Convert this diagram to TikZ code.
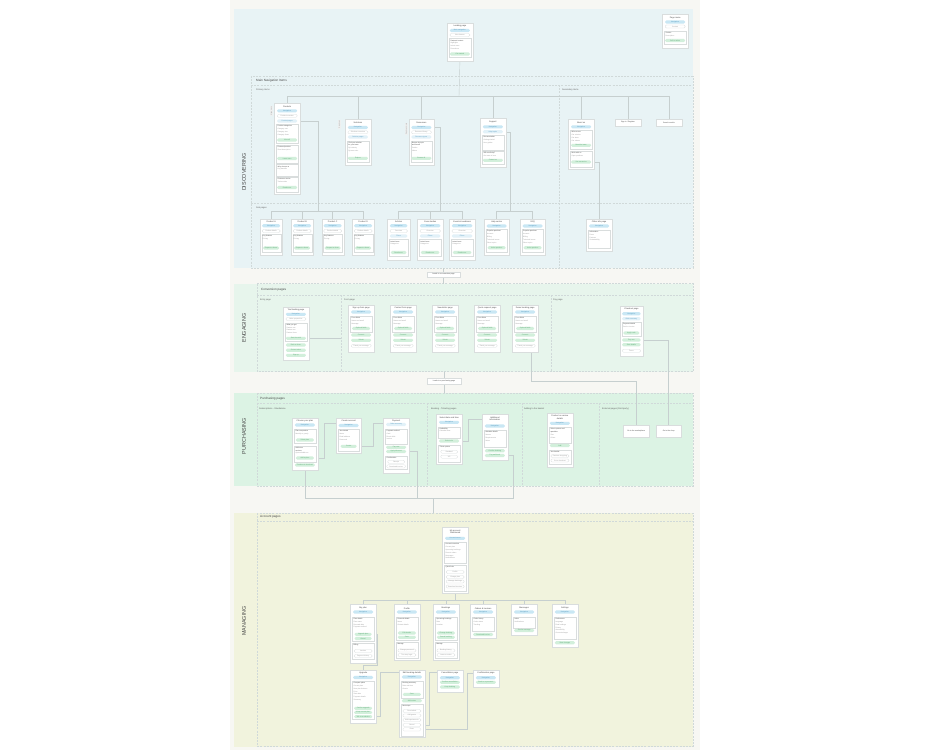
\documentclass[tikz,border=0pt]{standalone}
\usepackage{fontspec}
\setmainfont{Liberation Sans}

\definecolor{pagebg}{HTML}{F7F7F3}
\definecolor{discbg}{HTML}{E8F3F5}
\definecolor{engbg}{HTML}{E7F5EC}
\definecolor{purbg}{HTML}{DCF3E4}
\definecolor{manbg}{HTML}{F1F3DD}
\definecolor{framecol}{HTML}{D0D9D9}
\definecolor{cardline}{HTML}{D9DDDD}
\definecolor{navblue}{HTML}{C9E7F4}
\definecolor{linkblue}{HTML}{E2F1F8}
\definecolor{actgreen}{HTML}{D2EFDB}
\definecolor{navtext}{HTML}{5C9EC2}
\definecolor{acttext}{HTML}{5AA874}
\definecolor{wirecol}{HTML}{C6CFCF}
\definecolor{textdark}{HTML}{454545}
\definecolor{textgray}{HTML}{9A9A9A}

\pgfdeclarelayer{bg}
\pgfdeclarelayer{wires}
\pgfsetlayers{bg,wires,main}

\tikzset{
  pagecard/.style={draw=cardline, fill=white, line width=0.3pt, anchor=north west, inner sep=0pt},
  ttl/.style={font=\fontsize{2.1}{2.6}\selectfont, text=textdark, inner sep=0pt, align=center},
  pill/.style={rounded corners=1.3pt, minimum width=20pt, minimum height=3.1pt, inner sep=0pt,
    font=\fontsize{1.7}{2}\selectfont},
  navpill/.style={pill, fill=navblue, text=navtext},
  linkpill/.style={pill, fill=linkblue, text=navtext},
  plainpill/.style={pill, fill=white, draw=cardline, line width=0.25pt, text=textgray},
  actpill/.style={pill, fill=actgreen, text=acttext},
  sect/.style={draw=cardline, fill=white, line width=0.3pt, anchor=north, minimum width=21.5pt, inner sep=0pt},
  txt/.style={anchor=north west, inner sep=0pt, align=left, font=\fontsize{1.7}{2.8}\selectfont, text=textgray},
  note/.style={draw=cardline, fill=white, line width=0.3pt, inner sep=0pt,
    font=\fontsize{1.8}{2.2}\selectfont, text=textdark},
  tag/.style={rotate=90, inner sep=0.4pt, fill=cardline!45, font=\fontsize{1.6}{2}\selectfont, text=textgray},
  wire/.style={draw=wirecol, line width=0.4pt},
  frame/.style={draw=framecol, line width=0.35pt, dash pattern=on 2pt off 1.2pt},
  bandlbl/.style={rotate=90, inner sep=0pt, font=\fontsize{5.4}{6}\selectfont, text=textdark},
  head/.style={anchor=west, inner sep=0pt, font=\fontsize{3.1}{3.5}\selectfont, text=textdark},
  subhead/.style={anchor=west, inner sep=0pt, font=\fontsize{2.2}{2.6}\selectfont, text=textdark!85},
}

\begin{document}
\begin{tikzpicture}[x=1pt,y=-1pt]
\useasboundingbox (0,0) rectangle (930,750);

% bands and section frames
\begin{pgfonlayer}{bg}
  \fill[pagebg] (230,0) rectangle (700,750);
  \fill[discbg] (233.5,9) rectangle (693,268);
  \fill[engbg] (233.5,283.5) rectangle (693,371.5);
  \fill[purbg] (233.5,393) rectangle (693,486);
  \fill[manbg] (233.5,513) rectangle (693,746.5);
  \draw[frame] (251,76) rectangle (693,268);
  \draw[frame] (251,85) -- (693,85);
  \draw[frame] (559,85) -- (559,268);
  \draw[frame] (251,203) -- (693,203);
  \draw[frame] (257,283.5) rectangle (693,371.5);
  \draw[frame] (257,295) -- (693,295);
  \draw[frame] (341,295) -- (341,371.5);
  \draw[frame] (551,295) -- (551,371.5);
  \draw[frame] (257,393) rectangle (693,486);
  \draw[frame] (257,403) -- (693,403);
  \foreach \dx in {427,522,599} \draw[frame] (\dx,403) -- (\dx,486);
  \draw[frame] (257,513) rectangle (693,746.5);
  \draw[frame] (257,521) -- (693,521);
\end{pgfonlayer}

% band labels and headers
\node[bandlbl] (lbl-disc) at (244,172) {DISCOVERING};
\node[bandlbl] (lbl-eng) at (244,328) {ENGAGING};
\node[bandlbl] (lbl-pur) at (244,436) {PURCHASING};
\node[bandlbl] (lbl-man) at (244,621) {MANAGING};
\node[head] (h-main) at (256,80.5) {Main Navigation Items};
\node[subhead] (h-prim) at (256,90) {Primary items};
\node[subhead] (h-sec) at (562,90) {Secondary items};
\node[subhead] (h-sub) at (256,207.5) {Sub pages};
\node[head] (h-conv) at (261,289.3) {Conversion pages};
\node[subhead] (h-entry) at (260,300) {Entry page};
\node[subhead] (h-form) at (344,300) {Form page};
\node[subhead] (h-pay) at (553,300) {Pay page};
\node[head] (h-purch) at (260,398.3) {Purchasing pages};
\node[subhead] (h-subs) at (259,409) {Subscriptions - Standalone};
\node[subhead] (h-book) at (431,409) {Booking - Ticketing pages};
\node[subhead] (h-cart) at (524,409) {Adding to the basket};
\node[subhead] (h-ext) at (602,409) {External pages (third party)};
\node[head] (h-acc) at (260,517) {Account pages};

% legend
\node[pagecard, minimum width=26, minimum height=34] (key) at (662,14) {};
\node[ttl] (key-t) at (key.north |- 0,17.5) {Page name};
\node[navpill] (key-n) at (key.north |- 0,22) {Navigation};
\node[plainpill] (key-c) at (key.north |- 0,26.5) {Content};
\node[sect, minimum height=13.5] (key-b) at (key.north |- 0,30.7) {};
\node[txt] (key-x) at (665.5,31.8) {\textcolor{textdark}{Section}\\Description};
\node[actpill] (key-a) at (key.north |- 0,40.5) {Call to action};

% landing page
\node[pagecard, minimum width=25.5, minimum height=38] (land) at (447,23) {};
\node[ttl] (land-t) at (land.north |- 0,26.3) {Landing page};
\node[navpill] (land-n) at (land.north |- 0,30.5) {Main navigation};
\node[plainpill] (land-c) at (land.north |- 0,35) {Hero banner};
\node[sect, minimum height=19] (land-b) at (land.north |- 0,38.3) {};
\node[txt] (land-x) at (450.3,39.6) {\textcolor{textdark}{Featured content}\\Highlights\\Latest news\\Promotions};
\node[actpill] (land-a) at (land.north |- 0,54) {Get started};

% primary items
\node[pagecard, minimum width=26, minimum height=91] (prod) at (274,103) {};
\node[ttl] (prod-t) at (prod.north |- 0,106.3) {Products};
\node[navpill] (prod-n) at (prod.north |- 0,110.8) {Navigation};
\node[plainpill] (prod-c) at (prod.north |- 0,115.8) {Product overview};
\node[linkpill] (prod-l) at (prod.north |- 0,121) {Product pages};
\node[sect, minimum height=18.7] (prod-b1) at (prod.north |- 0,124.3) {};
\node[txt] (prod-x1) at (277.5,125.5) {\textcolor{textdark}{Product categories}\\Category one\\Category two\\Category three};
\node[actpill] (prod-a1) at (prod.north |- 0,140) {View all};
\node[sect, minimum height=18] (prod-b2) at (prod.north |- 0,145) {};
\node[txt] (prod-x2) at (277.5,146.3) {\textcolor{textdark}{Featured product}\\Short description};
\node[actpill] (prod-a2) at (prod.north |- 0,158.5) {Learn more};
\node[sect, minimum height=11.5] (prod-b3) at (prod.north |- 0,164.3) {};
\node[txt] (prod-x3) at (277.5,165.6) {\textcolor{textdark}{Why choose us}\\Key benefits};
\node[sect, minimum height=15] (prod-b4) at (prod.north |- 0,176.5) {};
\node[txt] (prod-x4) at (277.5,177.8) {\textcolor{textdark}{Customer stories}\\Testimonials};
\node[actpill] (prod-a4) at (prod.north |- 0,187.5) {Read more};
\node[tag] (prod-g) at (271.5,111) {Mega menu};

\node[pagecard, minimum width=25.5, minimum height=46] (solu) at (345,119) {};
\node[ttl] (solu-t) at (solu.north |- 0,122.8) {Solutions};
\node[navpill] (solu-n) at (solu.north |- 0,127.5) {Navigation};
\node[plainpill] (solu-c) at (solu.north |- 0,132.3) {Solutions overview};
\node[linkpill] (solu-l) at (solu.north |- 0,137) {Solution pages};
\node[sect, minimum height=21.5] (solu-b) at (solu.north |- 0,140.5) {};
\node[txt] (solu-x) at (348.3,141.7) {\textcolor{textdark}{Find your solution}\\\textcolor{textdark}{for your team}\\By industry\\By team size};
\node[actpill] (solu-a) at (solu.north |- 0,158.3) {Explore};
\node[tag] (solu-g) at (339.5,124.5) {Dropdown};

\node[pagecard, minimum width=25.5, minimum height=46] (reso) at (408.5,119) {};
\node[ttl] (reso-t) at (reso.north |- 0,122.8) {Resources};
\node[navpill] (reso-n) at (reso.north |- 0,127.5) {Navigation};
\node[plainpill] (reso-c) at (reso.north |- 0,132.3) {Resource library};
\node[linkpill] (reso-l) at (reso.north |- 0,137) {Resource types};
\node[sect, minimum height=21.5] (reso-b) at (reso.north |- 0,140.5) {};
\node[txt] (reso-x) at (411.8,141.7) {\textcolor{textdark}{Browse by topic}\\\textcolor{textdark}{and format}\\Guides\\Videos};
\node[actpill] (reso-a) at (reso.north |- 0,158.3) {Browse all};
\node[tag] (reso-g) at (406.5,129) {Dropdown menu};

\node[pagecard, minimum width=25.5, minimum height=49] (supp) at (480,118) {};
\node[ttl] (supp-t) at (supp.north |- 0,121.8) {Support};
\node[navpill] (supp-n) at (supp.north |- 0,126.8) {Navigation};
\node[linkpill] (supp-l) at (supp.north |- 0,131.7) {Help topics};
\node[sect, minimum height=15] (supp-b1) at (supp.north |- 0,135) {};
\node[txt] (supp-x1) at (483.3,136.3) {\textcolor{textdark}{Documentation}\\Getting started\\User guides};
\node[sect, minimum height=12.5] (supp-b2) at (supp.north |- 0,151) {};
\node[txt] (supp-x2) at (483.3,152.3) {\textcolor{textdark}{Still need help?}\\Our team is here};
\node[actpill] (supp-a) at (supp.north |- 0,160.3) {Contact us};

% secondary items
\node[pagecard, minimum width=26, minimum height=50] (about) at (568,119) {};
\node[ttl] (about-t) at (about.north |- 0,122.5) {About us};
\node[navpill] (about-n) at (about.north |- 0,126.8) {Navigation};
\node[sect, minimum height=19] (about-b1) at (about.north |- 0,130) {};
\node[txt] (about-x1) at (571.5,131.3) {\textcolor{textdark}{Who we are}\\Our mission\\Our team\\Our values};
\node[actpill] (about-a1) at (about.north |- 0,145.3) {Meet the team};
\node[sect, minimum height=16.5] (about-b2) at (about.north |- 0,150.5) {};
\node[txt] (about-x2) at (571.5,151.8) {\textcolor{textdark}{Work with us}\\Open positions};
\node[actpill] (about-a2) at (about.north |- 0,162) {See vacancies};

\node[pagecard, minimum width=25.5, minimum height=6.5, font=\fontsize{1.8}{2}\selectfont, text=textdark] (sign) at (615,119) {Sign in / Register};
\node[pagecard, minimum width=25.5, minimum height=6.5, font=\fontsize{1.8}{2}\selectfont, text=textdark] (srch) at (656,119) {Search results};

% sub pages
\foreach \i/\x/\nm in {1/260/Product A,2/291/Product B,3/321.5/Product C,4/352/Product D}{
  \node[pagecard, minimum width=22, minimum height=36] (sp\i) at (\x,219) {};
  \node[ttl] (sp\i-t) at (sp\i.north |- 0,222) {\nm};
  \node[navpill, minimum width=18] (sp\i-n) at (sp\i.north |- 0,225.7) {Navigation};
  \node[plainpill, minimum width=18] (sp\i-c) at (sp\i.north |- 0,231) {Product details};
  \node[sect, minimum width=19, minimum height=18] (sp\i-b) at (sp\i.north |- 0,234.2) {};
  \node[txt] (sp\i-x) at (\x+2.5,235.5) {\textcolor{textdark}{Key features}\\Pricing};
  \node[actpill, minimum width=16] (sp\i-a) at (sp\i.north |- 0,248) {Request a demo};
}
\foreach \i/\x/\w/\nm in {5/387/23/Articles,6/417/26/Case studies,7/449/26/Events \& webinars}{
  \node[pagecard, minimum width=\w, minimum height=40.5] (sp\i) at (\x,219) {};
  \node[ttl] (sp\i-t) at (sp\i.north |- 0,222) {\nm};
  \node[navpill, minimum width=\w-5.5] (sp\i-n) at (sp\i.north |- 0,225.7) {Navigation};
  \node[plainpill, minimum width=\w-5.5] (sp\i-c) at (sp\i.north |- 0,231) {Overview};
  \node[linkpill, minimum width=\w-5.5] (sp\i-l) at (sp\i.north |- 0,236) {Filters};
  \node[sect, minimum width=\w-4, minimum height=17] (sp\i-b) at (sp\i.north |- 0,239.3) {};
  \node[txt] (sp\i-x) at (\x+3.2,240.6) {\textcolor{textdark}{Latest items}\\Categories};
  \node[actpill, minimum width=\w-7.5] (sp\i-a) at (sp\i.north |- 0,252.5) {Read more};
}
\foreach \i/\x/\nm in {8/484/Help centre,9/520/FAQ}{
  \node[pagecard, minimum width=25, minimum height=36] (sp\i) at (\x,219) {};
  \node[ttl] (sp\i-t) at (sp\i.north |- 0,222) {\nm};
  \node[navpill] (sp\i-n) at (sp\i.north |- 0,226) {Navigation};
  \node[sect, minimum height=22.7] (sp\i-b) at (sp\i.north |- 0,229.3) {};
  \node[txt] (sp\i-x) at (\x+3,230.5) {\textcolor{textdark}{Popular questions}\\Account\\Billing\\Technical issues\\Other topics};
  \node[actpill, minimum width=18] (sp\i-a) at (sp\i.north |- 0,247.7) {Ask a question};
}
\node[pagecard, minimum width=26, minimum height=32] (spo) at (586,219) {};
\node[ttl] (spo-t) at (spo.north |- 0,222) {Other info page};
\node[navpill] (spo-n) at (spo.north |- 0,226) {Navigation};
\node[sect, minimum height=18.3] (spo-b) at (spo.north |- 0,229.7) {};
\node[txt] (spo-x) at (589.5,231) {\textcolor{textdark}{Information}\\Press\\Partners\\Sustainability};

\node[note, minimum width=33, minimum height=5.5] (toconv) at (443.5,274.5) {Leads to a conversion page};

% conversion pages
\node[pagecard, minimum width=25.5, minimum height=53] (entry) at (283,307) {};
\node[ttl] (entry-t) at (entry.north |- 0,310.2) {Trial landing page};
\node[navpill] (entry-n) at (entry.north |- 0,314.3) {Navigation};
\node[plainpill] (entry-c) at (entry.north |- 0,319) {Value proposition};
\node[sect, minimum height=18] (entry-b) at (entry.north |- 0,322.7) {};
\node[txt] (entry-x) at (286.3,323.9) {\textcolor{textdark}{What you get}\\Feature one\\Feature two\\Feature three};
\node[actpill] (entry-a1) at (entry.north |- 0,338.3) {Start free trial};
\node[actpill] (entry-a2) at (entry.north |- 0,345) {Book a demo};
\node[actpill] (entry-a3) at (entry.north |- 0,350.2) {Contact sales};
\node[actpill] (entry-a4) at (entry.north |- 0,355.3) {Sign up};

\foreach \i/\x/\nm in {1/348/Sign up form page,2/390/Contact form page,3/432/Newsletter page,4/474/Quote request page,5/512/Demo booking page}{
  \node[pagecard, minimum width=26, minimum height=46.5] (f\i) at (\x,305) {};
  \node[ttl] (f\i-t) at (f\i.north |- 0,308.3) {\nm};
  \node[navpill] (f\i-n) at (f\i.north |- 0,312) {Navigation};
  \node[sect, minimum height=16] (f\i-b) at (f\i.north |- 0,315.8) {};
  \node[txt] (f\i-x) at (\x+3.5,317) {\textcolor{textdark}{Form fields}\\Name and email\\Message};
  \node[actpill, minimum width=18] (f\i-a1) at (f\i.north |- 0,328.5) {Optional fields};
  \node[actpill] (f\i-a2) at (f\i.north |- 0,335) {Consent};
  \node[actpill] (f\i-a3) at (f\i.north |- 0,340.3) {Submit};
  \node[plainpill] (f\i-c) at (f\i.north |- 0,345.8) {Thank you message};
}

\node[pagecard, minimum width=22.5, minimum height=50] (pay) at (620,306) {};
\node[ttl] (pay-t) at (pay.north |- 0,309.3) {Checkout page};
\node[navpill, minimum width=18.5] (pay-n) at (pay.north |- 0,313.7) {Navigation};
\node[linkpill, minimum width=18.5] (pay-l) at (pay.north |- 0,318.7) {Order summary};
\node[sect, minimum width=19.5, minimum height=13.7] (pay-b) at (pay.north |- 0,322.3) {};
\node[txt] (pay-x) at (623,323.5) {\textcolor{textdark}{Payment details}\\Card or invoice};
\node[actpill, minimum width=16] (pay-a0) at (pay.north |- 0,333) {Apply code};
\node[actpill, minimum width=18.5] (pay-a1) at (pay.north |- 0,340) {Pay now};
\node[actpill, minimum width=18.5] (pay-a2) at (pay.north |- 0,344.7) {Save details};
\node[plainpill, minimum width=18.5] (pay-c) at (pay.north |- 0,350.7) {Terms};

\node[note, minimum width=34, minimum height=6] (topurch) at (444,381.5) {Leads to a purchasing page};

% purchasing pages
\node[pagecard, minimum width=25.5, minimum height=52] (subs) at (292,418) {};
\node[ttl] (subs-t) at (subs.north |- 0,421) {Choose your plan};
\node[navpill] (subs-n) at (subs.north |- 0,425) {Navigation};
\node[sect, minimum height=14] (subs-b1) at (subs.north |- 0,428.8) {};
\node[txt] (subs-x1) at (295.3,430) {\textcolor{textdark}{Plan comparison}\\Monthly or yearly};
\node[actpill, minimum width=18] (subs-a1) at (subs.north |- 0,440) {Select plan};
\node[sect, minimum height=16] (subs-b2) at (subs.north |- 0,445.7) {};
\node[txt] (subs-x2) at (295.3,446.9) {\textcolor{textdark}{Add extra}\\\textcolor{textdark}{services}\\Optional add-ons};
\node[actpill, minimum width=18] (subs-a2) at (subs.north |- 0,458) {Add to plan};
\node[actpill] (subs-a3) at (subs.north |- 0,465) {Continue to checkout};

\node[pagecard, minimum width=25, minimum height=35] (acct) at (336,418) {};
\node[ttl] (acct-t) at (acct.north |- 0,421) {Create account};
\node[navpill] (acct-n) at (acct.north |- 0,425.5) {Navigation};
\node[sect, minimum height=21.7] (acct-b) at (acct.north |- 0,429) {};
\node[txt] (acct-x) at (339.3,430.2) {\textcolor{textdark}{Your details}\\Name\\Email address\\Password};
\node[actpill, minimum width=16] (acct-a) at (acct.north |- 0,446.3) {Create};

\node[pagecard, minimum width=26, minimum height=55] (pay2) at (383,418) {};
\node[ttl] (pay2-t) at (pay2.north |- 0,421) {Payment};
\node[linkpill] (pay2-l) at (pay2.north |- 0,424.5) {Order summary};
\node[sect, minimum height=15] (pay2-b1) at (pay2.north |- 0,428.7) {};
\node[txt] (pay2-x1) at (386.5,430) {\textcolor{textdark}{Payment method}\\Card\\Direct debit\\Invoice};
\node[actpill] (pay2-a1) at (pay2.north |- 0,447.3) {Pay now};
\node[actpill] (pay2-a2) at (pay2.north |- 0,451.5) {Apply discount};
\node[sect, minimum height=13.5] (pay2-b2) at (pay2.north |- 0,455.5) {};
\node[txt] (pay2-x2) at (386.5,456.7) {\textcolor{textdark}{Confirmation}};
\node[plainpill, minimum width=17] (pay2-c1) at (pay2.north |- 0,461.8) {Receipt};
\node[plainpill, minimum width=19] (pay2-c2) at (pay2.north |- 0,466.4) {Download invoice};

\node[pagecard, minimum width=26, minimum height=50] (book) at (436,414) {};
\node[ttl] (book-t) at (book.north |- 0,417.7) {Select date and time};
\node[navpill] (book-n) at (book.north |- 0,422.3) {Navigation};
\node[sect, minimum height=11] (book-b1) at (book.north |- 0,426.5) {};
\node[txt] (book-x1) at (439.5,427.7) {\textcolor{textdark}{Availability}\\Calendar view};
\node[actpill] (book-a) at (book.north |- 0,441) {Select slot};
\node[sect, minimum height=17] (book-b2) at (book.north |- 0,444.8) {};
\node[txt] (book-x2) at (439.5,446) {\textcolor{textdark}{Ticket options}};
\node[plainpill, minimum width=17] (book-c1) at (book.north |- 0,451.7) {Standard};
\node[plainpill, minimum width=17] (book-c2) at (book.north |- 0,456.7) {VIP};

\node[pagecard, minimum width=25.5, minimum height=46] (bdet) at (482,414) {};
\node[ttl] (bdet-t) at (bdet.north |- 0,418.6) {Additional\\information};
\node[navpill] (bdet-n) at (bdet.north |- 0,426) {Navigation};
\node[sect, minimum height=17] (bdet-b) at (bdet.north |- 0,430) {};
\node[txt] (bdet-x) at (485.3,431.2) {\textcolor{textdark}{Attendee details}\\Names\\Requirements\\Notes};
\node[actpill] (bdet-a1) at (bdet.north |- 0,450.7) {Confirm booking};
\node[actpill] (bdet-a2) at (bdet.north |- 0,455.5) {Pay and book};

\node[pagecard, minimum width=25.5, minimum height=54] (cart) at (547,413) {};
\node[ttl] (cart-t) at (cart.north |- 0,417.5) {Product or service\\details};
\node[navpill] (cart-n) at (cart.north |- 0,423.3) {Navigation};
\node[sect, minimum height=15.3] (cart-b1) at (cart.north |- 0,427.3) {};
\node[txt] (cart-x1) at (550.3,428.5) {\textcolor{textdark}{Select options and}\\\textcolor{textdark}{quantities}\\Size\\Colour};
\node[actpill] (cart-a) at (cart.north |- 0,445.5) {Add};
\node[sect, minimum height=14.5] (cart-b2) at (cart.north |- 0,449.8) {};
\node[txt] (cart-x2) at (550.3,451) {\textcolor{textdark}{Your basket}};
\node[plainpill, minimum width=18] (cart-c1) at (cart.north |- 0,456) {Continue shopping};
\node[plainpill, minimum width=18] (cart-c2) at (cart.north |- 0,460.5) {Go to checkout};

\node[pagecard, minimum width=26, minimum height=12, font=\fontsize{1.8}{2}\selectfont, text=textdark] (ext1) at (623,425) {Go to the marketplace};
\node[pagecard, minimum width=25, minimum height=12, font=\fontsize{1.8}{2}\selectfont, text=textdark] (ext2) at (656,425) {Go to the shop};

% account pages
\node[pagecard, minimum width=26, minimum height=66] (macc) at (442,527) {};
\node[ttl] (macc-t) at (macc.north |- 0,531.7) {My account\\Dashboard};
\node[navpill] (macc-n) at (macc.north |- 0,538.3) {Account menu};
\node[sect, minimum height=21] (macc-b1) at (macc.north |- 0,542.3) {};
\node[txt] (macc-x1) at (445.5,543.5) {\textcolor{textdark}{Account overview}\\Current plan\\Upcoming bookings\\Recent orders\\Messages\\Notifications};
\node[sect, minimum height=25.7] (macc-b2) at (macc.north |- 0,565) {};
\node[txt] (macc-x2) at (445.5,566.3) {\textcolor{textdark}{Quick links}};
\node[plainpill, minimum width=18] (macc-c1) at (macc.north |- 0,572) {Profile};
\node[plainpill, minimum width=18] (macc-c2) at (macc.north |- 0,577) {Change plan};
\node[plainpill, minimum width=18] (macc-c3) at (macc.north |- 0,581.5) {Manage bookings};
\node[plainpill, minimum width=18] (macc-c4) at (macc.north |- 0,586.5) {Download invoices};

\node[pagecard, minimum width=26, minimum height=59] (plan) at (350,604) {};
\node[ttl] (plan-t) at (plan.north |- 0,608.3) {My plan};
\node[navpill] (plan-n) at (plan.north |- 0,612) {Navigation};
\node[sect, minimum height=24] (plan-b1) at (plan.north |- 0,616.7) {};
\node[txt] (plan-x1) at (353.5,618) {\textcolor{textdark}{Plan details}\\Plan name\\Renewal date\\Payment method};
\node[actpill, minimum width=17] (plan-a1) at (plan.north |- 0,634.3) {Upgrade plan};
\node[actpill, minimum width=17] (plan-a2) at (plan.north |- 0,638.5) {Cancel};
\node[sect, minimum height=16] (plan-b2) at (plan.north |- 0,643.3) {};
\node[txt] (plan-x2) at (353.5,644.5) {\textcolor{textdark}{Billing}};
\node[plainpill, minimum width=18] (plan-c1) at (plan.north |- 0,651) {Invoices};
\node[plainpill, minimum width=18] (plan-c2) at (plan.north |- 0,656) {Payment history};

\foreach \nd/\x/\nm/\sa/\sb/\sc/\pa/\pb/\qa/\qb in {prof/394/Profile/Personal details/Name/Contact details/Edit details/Save/Change password/Two-step login,
    mybk/433/Bookings/Upcoming bookings/Date/Location/Change booking/Cancel booking/Booking history/Leave a review}{
  \node[pagecard, minimum width=25.5, minimum height=56] (\nd) at (\x,604) {};
  \node[ttl] (\nd-t) at (\nd.north |- 0,608.3) {\nm};
  \node[navpill] (\nd-n) at (\nd.north |- 0,612) {Navigation};
  \node[sect, minimum height=23] (\nd-b1) at (\nd.north |- 0,616.7) {};
  \node[txt] (\nd-x1) at (\x+3.3,618) {\textcolor{textdark}{\sa}\\\sb\\\sc};
  \node[actpill, minimum width=18] (\nd-a1) at (\nd.north |- 0,633) {\pa};
  \node[actpill, minimum width=18] (\nd-a2) at (\nd.north |- 0,637.3) {\pb};
  \node[sect, minimum height=16] (\nd-b2) at (\nd.north |- 0,642.3) {};
  \node[txt] (\nd-x2) at (\x+3.3,643.5) {\textcolor{textdark}{Manage}};
  \node[plainpill, minimum width=18] (\nd-c1) at (\nd.north |- 0,650.5) {\qa};
  \node[plainpill, minimum width=18] (\nd-c2) at (\nd.north |- 0,655) {\qb};
}

\node[pagecard, minimum width=26, minimum height=34] (ordr) at (470,604) {};
\node[ttl] (ordr-t) at (ordr.north |- 0,608.3) {Orders \& invoices};
\node[navpill] (ordr-n) at (ordr.north |- 0,612) {Navigation};
\node[sect, minimum height=14] (ordr-b) at (ordr.north |- 0,616.7) {};
\node[txt] (ordr-x) at (473.5,618) {\textcolor{textdark}{Order history}\\Order status\\Tracking};
\node[actpill] (ordr-a) at (ordr.north |- 0,634.5) {Download invoice};

\node[pagecard, minimum width=26, minimum height=31] (msgs) at (511,604) {};
\node[ttl] (msgs-t) at (msgs.north |- 0,608.3) {Messages};
\node[navpill] (msgs-n) at (msgs.north |- 0,612) {Navigation};
\node[sect, minimum height=11.6] (msgs-b) at (msgs.north |- 0,616.7) {};
\node[txt] (msgs-x) at (514.5,618) {\textcolor{textdark}{Inbox}\\Notifications};
\node[actpill] (msgs-a) at (msgs.north |- 0,630.5) {Send a message};

\node[pagecard, minimum width=25.5, minimum height=43] (sett) at (552,604) {};
\node[ttl] (sett-t) at (sett.north |- 0,608.3) {Settings};
\node[navpill] (sett-n) at (sett.north |- 0,612) {Navigation};
\node[sect, minimum height=22.3] (sett-b) at (sett.north |- 0,617) {};
\node[txt] (sett-x) at (555.3,618.3) {\textcolor{textdark}{Preferences}\\Language\\Email settings\\Privacy\\Accessibility\\Connected apps};
\node[actpill] (sett-a) at (sett.north |- 0,642.7) {Save changes};

\node[pagecard, minimum width=26, minimum height=53] (upgr) at (350,670) {};
\node[ttl] (upgr-t) at (upgr.north |- 0,673) {Upgrade};
\node[navpill] (upgr-n) at (upgr.north |- 0,677.5) {Navigation};
\node[sect, minimum height=38.3] (upgr-b) at (upgr.north |- 0,681) {};
\node[txt] (upgr-x) at (353.5,682.3) {\textcolor{textdark}{Compare plans}\\Current plan\\New plan features\\Price\\Start date\\Payment details\\Summary};
\node[actpill, minimum width=18] (upgr-a1) at (upgr.north |- 0,708.3) {Confirm upgrade};
\node[actpill, minimum width=18] (upgr-a2) at (upgr.north |- 0,712.4) {Keep current plan};
\node[actpill, minimum width=18] (upgr-a3) at (upgr.north |- 0,716.6) {Talk to an advisor};

\node[pagecard, minimum width=25.5, minimum height=67] (edbk) at (399,670) {};
\node[ttl] (edbk-t) at (edbk.north |- 0,672.8) {Edit booking details};
\node[navpill] (edbk-n) at (edbk.north |- 0,677) {Navigation};
\node[sect, minimum height=17.3] (edbk-b1) at (edbk.north |- 0,681) {};
\node[txt] (edbk-x1) at (402.3,682.2) {\textcolor{textdark}{Booking summary}\\Date and time\\Guests};
\node[actpill, minimum width=18] (edbk-a1) at (edbk.north |- 0,694.4) {Save};
\node[actpill] (edbk-a2) at (edbk.north |- 0,700.7) {Add extras};
\node[sect, minimum height=31.3] (edbk-b2) at (edbk.north |- 0,704.3) {};
\node[txt] (edbk-x2) at (402.3,705.5) {\textcolor{textdark}{Next steps}};
\node[plainpill, minimum width=18] (edbk-c1) at (edbk.north |- 0,711) {Reschedule};
\node[plainpill, minimum width=18] (edbk-c2) at (edbk.north |- 0,715.5) {Add guests};
\node[plainpill, minimum width=18] (edbk-c3) at (edbk.north |- 0,720) {Add requirements};
\node[plainpill, minimum width=18] (edbk-c4) at (edbk.north |- 0,725) {Cancel};
\node[plainpill, minimum width=18] (edbk-c5) at (edbk.north |- 0,729.4) {Done};

\node[pagecard, minimum width=25.5, minimum height=22] (canc) at (437,670) {};
\node[ttl] (canc-t) at (canc.north |- 0,673) {Cancellation page};
\node[navpill] (canc-n) at (canc.north |- 0,677.7) {Navigation};
\node[actpill] (canc-a1) at (canc.north |- 0,682.3) {Confirm cancellation};
\node[actpill] (canc-a2) at (canc.north |- 0,687) {Keep booking};

\node[pagecard, minimum width=25.5, minimum height=17] (conf) at (473,670) {};
\node[ttl] (conf-t) at (conf.north |- 0,673) {Confirmation page};
\node[navpill] (conf-n) at (conf.north |- 0,677.7) {Navigation};
\node[actpill] (conf-a) at (conf.north |- 0,682.3) {Back to my account};

% connectors
\begin{pgfonlayer}{wires}
  \coordinate (navbus) at (459,96.5);
  \draw[wire] (land.south) -- (navbus);
  \foreach \c in {prod,solu,reso,supp,about,sign,srch} \draw[wire] (\c.north) |- (navbus);

  \coordinate (prodbus) at (318,211);
  \draw[wire] (prod-l.east) -| (prodbus);
  \foreach \c in {sp1,sp2,sp3,sp4} \draw[wire] (\c.north) |- (prodbus);
  \coordinate (resobus) at (440,211);
  \draw[wire] (reso-n.east) -| (resobus);
  \foreach \c in {sp5,sp6,sp7} \draw[wire] (\c.north) |- (resobus);
  \coordinate (suppbus) at (510.5,211);
  \draw[wire] (supp-l.east) -| (suppbus);
  \foreach \c in {sp8,sp9} \draw[wire] (\c.north) |- (suppbus);
  \draw[wire] (about-a2.east) -| (spo.north);

  \coordinate (discbot) at (443.5,268);
  \coordinate (engtop) at (443.5,283.5);
  \draw[wire] (discbot) -- (toconv) -- (engtop);
  \coordinate (formsec) at (341,338.3);
  \draw[wire] (entry-a1.east) -- (formsec);
  \draw[wire] (pay-a1.east) -| (ext2.north);
  \draw[wire] ([xshift=6pt]f5.south) -- ++(0,29) -| (ext1.north);
  \coordinate (engbot) at (444,371.5);
  \coordinate (purtop) at (444,393);
  \draw[wire] (engbot) -- (topurch) -- (purtop);

  \draw[wire] (subs-a2.east) -- ++(9.7,0) |- ([yshift=-5.3pt]acct.north west);
  \draw[wire] (acct-a.east) -- ++(16.2,0) |- ([yshift=-5.3pt]pay2.north west);
  \draw[wire] (book-a.east) -- ++(9,0) |- ([yshift=-5pt]bdet.north west);
  \coordinate (purbus) at (433,498);
  \coordinate (mantop) at (433,513);
  \draw[wire] (subs.south) |- (purbus);
  \draw[wire] (pay2-a2.east) -- ++(11,0) |- (purbus);
  \draw[wire] (bdet-a2.east) -- ++(8.3,0) |- (purbus);
  \draw[wire] (purbus) -- (mantop);

  \coordinate (accbus) at (455,600);
  \draw[wire] (macc.south) -- (macc.south |- accbus);
  \foreach \c in {plan,prof,mybk,ordr,msgs,sett} \draw[wire] (\c.north) |- (accbus);
  \draw[wire] (plan-a1.east) -- ++(5,0) |- ([yshift=5pt]upgr.north) -- (upgr.north);
  \draw[wire] (upgr-a3.east) -- ++(8,0) |- ([yshift=-2pt]edbk.north west);
  \draw[wire] (edbk-c4.east) -- ++(8.3,0) |- ([yshift=-2pt]canc.north west);
  \draw[wire] (edbk-c5.east) -- ++(46.3,0) |- ([yshift=-3pt]conf.north west);
\end{pgfonlayer}
\end{tikzpicture}
\end{document}
